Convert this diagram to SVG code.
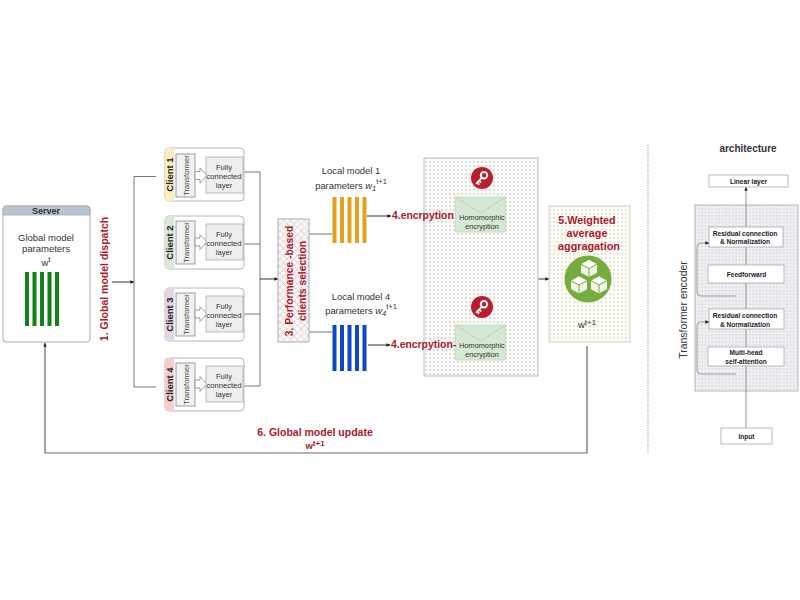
<svg xmlns="http://www.w3.org/2000/svg" width="800" height="600" viewBox="0 0 800 600">
<style>
text{font-family:"Liberation Sans",Arial,sans-serif;fill:#333}
.c{text-anchor:middle}
.red{fill:#a8202c;font-weight:bold}
.client{fill:#fff;stroke:#b5b5b5;stroke-width:1}
.lab{font-weight:bold;font-size:9.500px;fill:#222;text-anchor:middle}
.tf{fill:#f2f2f2;stroke:#888;stroke-width:.8}
.fc{fill:#eeeeee;stroke:#aaa;stroke-width:.8}
.sm{font-size:7.500px;text-anchor:middle;fill:#444}
.fct{font-size:7.600px;text-anchor:middle;fill:#333}
.ln{fill:none;stroke:#777;stroke-width:1}
.dk{fill:none;stroke:#444;stroke-width:1.1}
.arc{fill:#fff;stroke:#aaa;stroke-width:.8}
.arct{font-size:6.600px;font-weight:bold;text-anchor:middle;fill:#222}
.env{fill:#d5e8d4;stroke:#c2d8be;stroke-width:.8}
.hom{font-size:7.300px;text-anchor:middle;fill:#333}
.bar{stroke:none}
</style>
<defs>
<pattern id="dots" width="4" height="4" patternUnits="userSpaceOnUse"><rect width="4" height="4" fill="#fbfbfa"/><circle cx="2" cy="2" r="1.1" fill="#d6d6d3"/></pattern>
<pattern id="dotsY" width="4" height="4" patternUnits="userSpaceOnUse"><rect width="4" height="4" fill="#fdfcf6"/><circle cx="2" cy="2" r="1.1" fill="#e6e3d8"/></pattern>
<pattern id="dotsB" width="3.4" height="3.4" patternUnits="userSpaceOnUse"><rect width="3.4" height="3.4" fill="#f0f1f4"/><circle cx="1.7" cy="1.7" r="1" fill="#dcdee3"/></pattern>
<pattern id="hatch" width="7" height="7" patternUnits="userSpaceOnUse"><rect width="7" height="7" fill="#fbf6f6"/><path d="M0 0L7 7M7 0L0 7" stroke="#d9c9c9" stroke-width=".7"/></pattern>
<marker id="ah" viewBox="0 0 6 6" refX="5.500" refY="3" markerWidth="4" markerHeight="4" markerUnits="userSpaceOnUse" orient="auto"><path d="M0 0.5L6 3L0 5.500z" fill="#222"/></marker>
<g id="bars5"><rect class="bar" x="0" width="4" height="46"/><rect class="bar" x="7.500" width="4" height="46"/><rect class="bar" x="15" width="4" height="46"/><rect class="bar" x="22.500" width="4" height="46"/><rect class="bar" x="30" width="4" height="46"/></g>
<g id="keyIcon"><circle r="11" fill="#b81f2d"/><circle cx="2" cy="-2.800" r="3.200" fill="none" stroke="#fff" stroke-width="2"/><path d="M0 -0.500L-6 5.800M-4.800 4.600L-2.700 6.600M-2.800 2.700L-0.900 4.700" fill="none" stroke="#fff" stroke-width="1.800"/></g>
<g id="envIcon"><rect class="env" width="50" height="35"/><path d="M0 0L25 16L50 0" fill="none" stroke="#b8cfb4" stroke-width=".9"/></g>
<g id="blockArrow"><path d="M0 -4H5V-7.500L12 0L5 7.500V4H0z" fill="#fff" stroke="#888" stroke-width=".8"/></g>
<g id="cube"><path d="M0 -8.500L8 -4.300V4.300L0 8.500L-8 4.300V-4.300z" fill="#f0f5e8"/><path d="M0 -8.500L8 -4.300L0 0L-8 -4.300z" fill="#fff"/><path d="M-8 -4.300L0 0L8 -4.300M0 0V8.500" fill="none" stroke="#76ac3c" stroke-width="1"/></g>
</defs>

<g id="connectors">
<path class="dk" d="M112 282H134" marker-end="url(#ah)"/>
<path class="ln" d="M156 176.500H134V387H156"/>
<path class="ln" d="M243 172H260V386H243M244 244H260M244 314H260"/>
<path class="dk" d="M260 279H278" marker-end="url(#ah)"/>
<path class="ln" d="M309 234H332M309 332H332"/>
<path class="dk" d="M367 216H391" marker-end="url(#ah)" stroke-width="1.400"/>
<path class="dk" d="M368 345H390" marker-end="url(#ah)"/>
<path d="M505 212H530V345H505" fill="none" stroke="#888" stroke-width="1"/>
<path class="dk" d="M530 279H549" marker-end="url(#ah)"/>
<path d="M587 346V453H45V343" fill="none" stroke="#666" stroke-width="1.200" marker-end="url(#ah)"/>
<path d="M648 145V455" fill="none" stroke="#999" stroke-width="1.200" stroke-dasharray="1 1.500"/>
</g>

<g id="server">
<rect x="3" y="206" width="87" height="136" rx="3" fill="#fff" stroke="#aaa"/>
<path d="M3 215V209a3 3 0 0 1 3-3H87a3 3 0 0 1 3 3V215z" fill="#b7c6d2" stroke="#aaa" stroke-width=".8"/>
<text class="c" x="46" y="214" font-size="9" font-weight="bold" fill="#222">Server</text>
<text class="c" x="46" y="241" font-size="9.500">Global model</text>
<text class="c" x="46" y="252" font-size="9.500">parameters</text>
<text class="c" x="46" y="266" font-size="9.500">w<tspan dy="-4" font-size="8">t</tspan></text>
<g fill="#138019"><rect class="bar" x="25" y="272" width="4" height="54"/><rect class="bar" x="32.500" y="272" width="4" height="54"/><rect class="bar" x="40" y="272" width="4" height="54"/><rect class="bar" x="47.500" y="272" width="4" height="54"/><rect class="bar" x="55" y="272" width="4" height="54"/></g>
</g>

<g id="client1">
<rect class="client" x="165" y="148" width="79" height="53" rx="4"/>
<path d="M169 148H174V201H169a4 4 0 0 1-4-4V152a4 4 0 0 1 4-4z" fill="#fdf0bd" stroke="#ddd" stroke-width=".5"/>
<text class="lab" transform="translate(173 174.500) rotate(-90)">Client 1</text>
<rect class="tf" x="176" y="154" width="19" height="43"/><text class="sm" transform="translate(188.500 175.500) rotate(-90)">Transformer</text>
<use href="#blockArrow" x="195" y="175.500"/>
<rect class="fc" x="206" y="157" width="37" height="36"/>
<text class="fct" x="224" y="169.500">Fully</text><text class="fct" x="224" y="178.500">connected</text><text class="fct" x="224" y="187.500">layer</text>
</g>
<g id="client2">
<rect class="client" x="165" y="216" width="79" height="53" rx="4"/>
<path d="M169 216H174V269H169a4 4 0 0 1-4-4V220a4 4 0 0 1 4-4z" fill="#d9ead3" stroke="#ddd" stroke-width=".5"/>
<text class="lab" transform="translate(173 242.500) rotate(-90)">Client 2</text>
<rect class="tf" x="176" y="221" width="19" height="43"/><text class="sm" transform="translate(188.500 242.500) rotate(-90)">Transformer</text>
<use href="#blockArrow" x="195" y="242"/>
<rect class="fc" x="206" y="224" width="37" height="36"/>
<text class="fct" x="224" y="236.500">Fully</text><text class="fct" x="224" y="245.500">connected</text><text class="fct" x="224" y="254.500">layer</text>
</g>
<g id="client3">
<rect class="client" x="165" y="288" width="79" height="53" rx="4"/>
<path d="M169 288H174V341H169a4 4 0 0 1-4-4V292a4 4 0 0 1 4-4z" fill="#e1d5e7" stroke="#ddd" stroke-width=".5"/>
<text class="lab" transform="translate(173 314.500) rotate(-90)">Client 3</text>
<rect class="tf" x="176" y="293" width="19" height="43"/><text class="sm" transform="translate(188.500 314.500) rotate(-90)">Transformer</text>
<use href="#blockArrow" x="195" y="314"/>
<rect class="fc" x="206" y="296" width="37" height="36"/>
<text class="fct" x="224" y="308.500">Fully</text><text class="fct" x="224" y="317.500">connected</text><text class="fct" x="224" y="326.500">layer</text>
</g>
<g id="client4">
<rect class="client" x="165" y="358" width="79" height="53" rx="4"/>
<path d="M169 358H174V411H169a4 4 0 0 1-4-4V362a4 4 0 0 1 4-4z" fill="#f8cecc" stroke="#ddd" stroke-width=".5"/>
<text class="lab" transform="translate(173 384.500) rotate(-90)">Client 4</text>
<rect class="tf" x="176" y="363" width="19" height="43"/><text class="sm" transform="translate(188.500 384.500) rotate(-90)">Transformer</text>
<use href="#blockArrow" x="195" y="384"/>
<rect class="fc" x="206" y="366" width="37" height="36"/>
<text class="fct" x="224" y="378.500">Fully</text><text class="fct" x="224" y="387.500">connected</text><text class="fct" x="224" y="396.500">layer</text>
</g>

<g id="dispatch-label"><text class="red" font-size="10.500" text-anchor="middle" transform="translate(108 279) rotate(-90)">1. Global model dispatch</text></g>

<g id="selection">
<rect x="278" y="219" width="31" height="123" fill="url(#hatch)" stroke="#aaa"/>
<text class="red" font-size="10.300" text-anchor="middle" transform="translate(293 281) rotate(-90)">3. Performance -based</text>
<text class="red" font-size="10.300" text-anchor="middle" transform="translate(306 281) rotate(-90)">clients selection</text>
</g>

<g id="local1">
<text class="c" x="351" y="174" font-size="9.400">Local model 1</text>
<text class="c" x="351" y="188.500" font-size="9.400">parameters <tspan font-style="italic">w<tspan dy="2" font-size="7.500">1</tspan></tspan><tspan dy="-6.500" font-size="7.500">t+1</tspan></text>
<use href="#bars5" x="332.500" y="197" fill="#e5a11e"/>
</g>
<g id="local4">
<text class="c" x="361" y="299.500" font-size="9.400">Local model 4</text>
<text class="c" x="361" y="313.500" font-size="9.400">parameters <tspan font-style="italic">w<tspan dy="2" font-size="7.500">4</tspan></tspan><tspan dy="-6.500" font-size="7.500">t+1</tspan></text>
<use href="#bars5" x="332.500" y="325" fill="#1046c8"/>
</g>

<g id="encryption">
<rect x="424" y="158" width="114" height="218" fill="url(#dots)" stroke="#bbb"/>
<use href="#keyIcon" x="482" y="178"/>
<use href="#keyIcon" x="482" y="307"/>
<use href="#envIcon" x="455.500" y="197"/>
<use href="#envIcon" x="455.500" y="325"/>
<text class="hom" x="482" y="220">Homomorphic</text><text class="hom" x="482" y="229">encryption</text>
<text class="hom" x="482" y="348">Homomorphic</text><text class="hom" x="482" y="357">encryption</text>
<text class="red" x="392" y="219" font-size="10.400">4.encrpytion</text>
<text class="red" x="391" y="348" font-size="10.400">4.encrpytion-</text>
</g>

<g id="aggregation">
<rect x="549" y="206" width="81" height="136" fill="url(#dotsY)" stroke="#d8d4c0"/>
<text class="red c" x="587" y="224" font-size="10.800">5.Weighted</text>
<text class="red c" x="587" y="237" font-size="10.800">average</text>
<text class="red c" x="589" y="250" font-size="10.800">aggragation</text>
<circle cx="588" cy="279" r="23.500" fill="#76ac3c"/>
<use href="#cube" x="589" y="268.500"/>
<use href="#cube" x="579" y="285"/>
<use href="#cube" x="599" y="285"/>
<text class="c" x="587" y="328" font-size="9.500">w<tspan dy="-3" font-size="8">t+1</tspan></text>
</g>

<g id="update-label">
<text class="red c" x="315" y="436" font-size="10.500">6. Global model update</text>
<text class="red c" x="315" y="448.500" font-size="9.500">w<tspan dy="-3" font-size="8">t+1</tspan></text>
</g>

<g id="arch-title"><text class="c" x="748" y="152" font-size="10" font-weight="bold" fill="#222">architecture</text></g>
<g id="encoder-box">
<rect x="695" y="205" width="103" height="186" fill="url(#dotsB)" stroke="#aaa" stroke-width=".8"/>
<text class="c" font-size="10.500" transform="translate(687 310) rotate(-90)">Transformer encoder</text>
</g>
<g id="arch-connectors">
<path d="M746 428V187" fill="none" stroke="#888" stroke-width=".9" marker-end="url(#ah)"/>
<path d="M736 374H701a4 4 0 0 1-4-4V326a4 4 0 0 1 4-4H709" fill="none" stroke="#999" stroke-width="1" marker-end="url(#ah)"/>
<path d="M736 296H701a4 4 0 0 1-4-4V247a4 4 0 0 1 4-4H709" fill="none" stroke="#999" stroke-width="1" marker-end="url(#ah)"/>
</g>
<g id="linear"><rect class="arc" x="709" y="175" width="79" height="12"/><text class="arct" x="748.500" y="183.500">Linear layer</text></g>
<g id="res1"><rect class="arc" x="709" y="227" width="74" height="20"/><text class="arct" x="745" y="236">Residual connection</text><text class="arct" x="745" y="244">&amp; Normalization</text></g>
<g id="ff"><rect class="arc" x="708" y="265" width="76" height="18"/><text class="arct" x="746.500" y="277">Feedforward</text></g>
<g id="res2"><rect class="arc" x="709" y="309" width="75" height="20"/><text class="arct" x="745" y="318">Residual connection</text><text class="arct" x="745" y="326.500">&amp; Normalization</text></g>
<g id="mha"><rect class="arc" x="708" y="347" width="76" height="19"/><text class="arct" x="746" y="354.500">Multi-head</text><text class="arct" x="746" y="363.500">self-attention</text></g>
<g id="input"><rect class="arc" x="721" y="428" width="51" height="16"/><text class="arct" x="746.500" y="438.500">Input</text></g>
</svg>
